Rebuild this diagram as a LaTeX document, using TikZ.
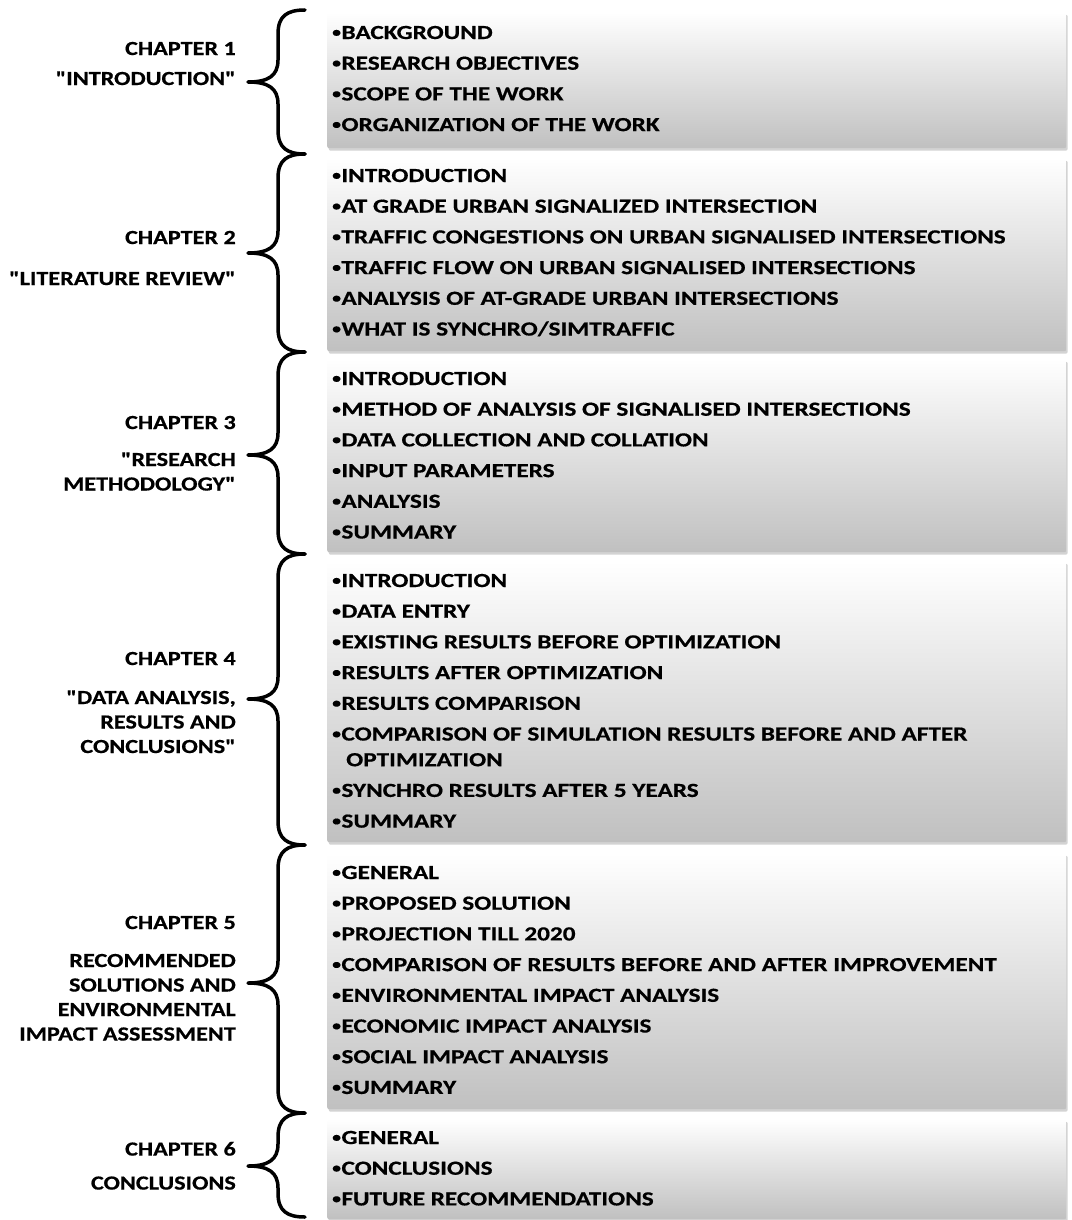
\documentclass[tikz,border=0pt]{standalone}
\usepackage{fontspec}
\newfontfamily\itemfont[FakeStretch=1.262, FakeBold=0.6]{Carlito Bold}
\newfontfamily\labelfont[FakeStretch=1.21, FakeBold=0.6]{Carlito Bold}
\usetikzlibrary{shadows}
\definecolor{boxgray}{RGB}{192,192,192}
\newcommand\bul{\raisebox{2.2pt}{\scalebox{0.7}{•}}\hspace{0.5pt}}
\tikzset{
  chbox/.style={rectangle, rounded corners=2pt, top color=white, bottom color=boxgray,
    draw=none, drop shadow={shadow xshift=1.5pt, shadow yshift=-2.5pt, opacity=0.35},
    anchor=north west, inner sep=0pt, minimum width=739pt},
  items/.style={anchor=north west, inner sep=0pt, align=left,
    font=\itemfont\fontsize{20}{30.7}\selectfont},
  chlabel/.style={anchor=north east, inner sep=0pt, align=right,
    font=\labelfont\fontsize{20}{24.5}\selectfont},
  bracepath/.style={line width=3.5pt, line cap=round, line join=round},
}
\newcommand\chbrace[3]{%
  \draw[bracepath] (305,#1) .. controls (287,#1) and (278,#1+6) .. (278,#1+24)
    -- (278,#3-22) .. controls (278,#3-6) and (268,#3) .. (248,#3)
    .. controls (268,#3) and (278,#3+6) .. (278,#3+22)
    -- (278,#2-24) .. controls (278,#2-6) and (287,#2) .. (305,#2);}
\begin{document}
\begin{tikzpicture}[x=1pt,y=-1pt]
\useasboundingbox (0,0) rectangle (1071,1220);

% boxes
\node[chbox, minimum height=136pt] (box1) at (327,12) {};
\node[chbox, minimum height=193pt] (box2) at (327,158) {};
\node[chbox, minimum height=193pt] (box3) at (327,359) {};
\node[chbox, minimum height=281pt] (box4) at (327,561) {};
\node[chbox, minimum height=256pt] (box5) at (327,853) {};
\node[chbox, minimum height=100pt] (box6) at (327,1119) {};

% items
\node[items] (it1) at (332,25.7) {\bul BACKGROUND\\\bul RESEARCH OBJECTIVES\\\bul SCOPE OF THE WORK\\\bul ORGANIZATION OF THE WORK};
\node[items] (it2) at (332,168.7) {\bul INTRODUCTION\\\bul AT GRADE URBAN SIGNALIZED INTERSECTION\\\bul TRAFFIC CONGESTIONS ON URBAN SIGNALISED INTERSECTIONS\\\bul TRAFFIC FLOW ON URBAN SIGNALISED INTERSECTIONS\\\bul ANALYSIS OF AT-GRADE URBAN INTERSECTIONS\\\bul WHAT IS SYNCHRO/SIMTRAFFIC};
\node[items] (it3) at (332,371.7) {\bul INTRODUCTION\\\bul METHOD OF ANALYSIS OF SIGNALISED INTERSECTIONS\\\bul DATA COLLECTION AND COLLATION\\\bul INPUT PARAMETERS\\\bul ANALYSIS\\\bul SUMMARY};
\node[items] (it4) at (332,573.7) {\bul INTRODUCTION\\\bul DATA ENTRY\\\bul EXISTING RESULTS BEFORE OPTIMIZATION\\\bul RESULTS AFTER OPTIMIZATION\\\bul RESULTS COMPARISON\\\bul COMPARISON OF SIMULATION RESULTS BEFORE AND AFTER\\[-5pt]\hspace*{14pt}OPTIMIZATION\\\bul SYNCHRO RESULTS AFTER 5 YEARS\\\bul SUMMARY};
\node[items] (it5) at (332,865.7) {\bul GENERAL\\\bul PROPOSED SOLUTION\\\bul PROJECTION TILL 2020\\\bul COMPARISON OF RESULTS BEFORE AND AFTER IMPROVEMENT\\\bul ENVIRONMENTAL IMPACT ANALYSIS\\\bul ECONOMIC IMPACT ANALYSIS\\\bul SOCIAL IMPACT ANALYSIS\\\bul SUMMARY};
\node[items] (it6) at (332,1130.7) {\bul GENERAL\\\bul CONCLUSIONS\\\bul FUTURE RECOMMENDATIONS};

% chapter labels
\node[chlabel] (lab1) at (236,41.7) {CHAPTER 1\\[5.5pt]"INTRODUCTION"};
\node[chlabel] (lab2) at (236,230.7) {CHAPTER 2\\[16.5pt]"LITERATURE REVIEW"};
\node[chlabel] (lab3) at (236,415.7) {CHAPTER 3\\[12.5pt]"RESEARCH\\METHODOLOGY"};
\node[chlabel] (lab4) at (236,651.7) {CHAPTER 4\\[14.5pt]"DATA ANALYSIS,\\RESULTS AND\\CONCLUSIONS"};
\node[chlabel] (lab5) at (236,915.7) {CHAPTER 5\\[13.5pt]RECOMMENDED\\SOLUTIONS AND\\ENVIRONMENTAL\\IMPACT ASSESSMENT};
\node[chlabel] (lab6) at (236,1141.7) {CHAPTER 6\\[9.5pt]CONCLUSIONS};

% braces
\chbrace{10}{154}{82}
\chbrace{154}{352}{253}
\chbrace{352}{554}{455}
\chbrace{554}{845}{699}
\chbrace{845}{1113}{983}
\chbrace{1113}{1217}{1166}
\end{tikzpicture}
\end{document}
